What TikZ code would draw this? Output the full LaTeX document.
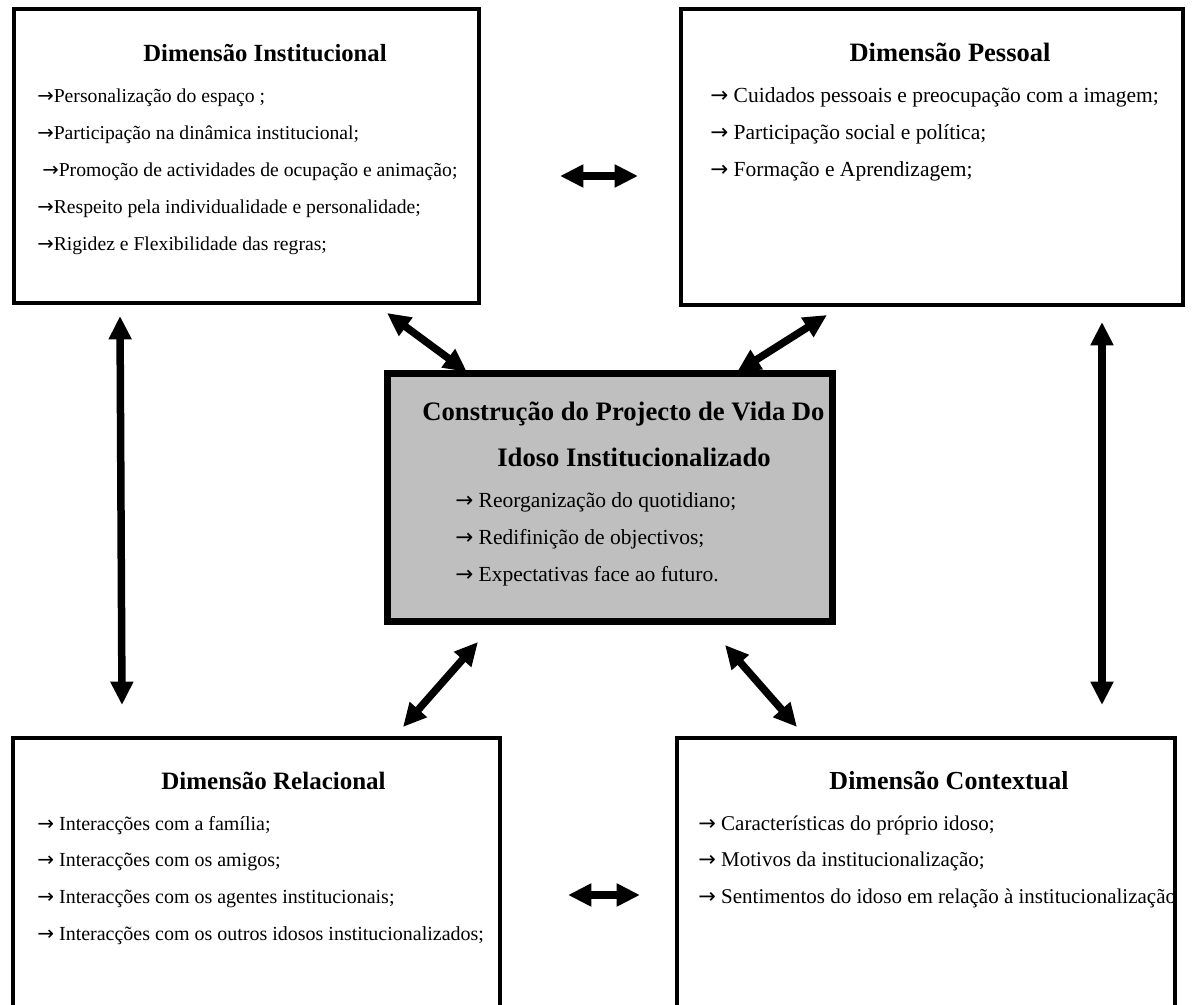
\documentclass[tikz,border=0pt]{standalone}
\usepackage{fontspec}
\setmainfont{Liberation Serif}
\newfontfamily\setafont{DejaVu Sans}
\usetikzlibrary{arrows.meta}
\newcommand{\seta}{{\setafont →}}

\begin{document}
\begin{tikzpicture}[x=0.6pt, y=-0.6pt,
    caixa/.style={draw, line width=2.4pt, fill=white, inner sep=0pt},
    centro/.style={draw, line width=4.2pt, fill=black!25, inner sep=0pt},
    titulo/.style={anchor=base, inner sep=0pt, font=\fontsize{14.8}{17}\selectfont\bfseries},
    titulog/.style={anchor=base, inner sep=0pt, font=\fontsize{16}{19}\selectfont\bfseries},
    item/.style={anchor=base west, inner sep=0pt, font=\fontsize{11.8}{14}\selectfont},
    itemg/.style={item, font=\fontsize{12.9}{15}\selectfont},
    liga/.style={line width=4.5pt, {Triangle[length=14pt,width=13pt]}-{Triangle[length=14pt,width=13pt]}}]
    \useasboundingbox (0,0) rectangle (1192,1005);
    \clip (0,0) rectangle (1192,1005);
    \fill[white] (0,0) rectangle (1192,1005);

    % caixas
    \node[caixa, minimum width=279pt, minimum height=176.4pt] (inst) at (246.5,156) {};
    \node[caixa, minimum width=301.2pt, minimum height=177.6pt] (pess) at (931.5,157.5) {};
    \node[centro, minimum width=267pt, minimum height=148.5pt] (cent) at (610,497.75) {};
    \node[caixa, minimum width=292.2pt, minimum height=181.2pt] (rel) at (256,889) {};
    \node[caixa, minimum width=298.8pt, minimum height=181.2pt] (cont) at (925.5,889) {};

    % Dimensao Institucional
    \node[titulo] (inst0) at (265,62) {Dimensão Institucional};
    \node[item] (inst1) at (37,103) {\seta Personalização do espaço ;};
    \node[item] (inst2) at (37,140) {\seta Participação na dinâmica institucional;};
    \node[item] (inst3) at (42,177) {\seta Promoção de actividades de ocupação e animação;};
    \node[item] (inst4) at (37,214) {\seta Respeito pela individualidade e personalidade;};
    \node[item] (inst5) at (37,251) {\seta Rigidez e Flexibilidade das regras;};

    % Dimensao Pessoal
    \node[titulo, font=\fontsize{15.9}{18}\selectfont\bfseries] (pess0) at (950,62) {Dimensão Pessoal};
    \node[itemg] (pess1) at (710,103) {\seta\ Cuidados pessoais e preocupação com a imagem;};
    \node[itemg] (pess2) at (710,140) {\seta\ Participação social e política;};
    \node[itemg] (pess3) at (710,177) {\seta\ Formação e Aprendizagem;};

    % Projecto de Vida
    \node[titulog] (cent0) at (623.5,421) {Construção do Projecto de Vida Do};
    \node[titulog] (cent1) at (634,467) {Idoso Institucionalizado};
    \node[itemg] (cent2) at (455,508) {\seta\ Reorganização do quotidiano;};
    \node[itemg] (cent3) at (455,545) {\seta\ Redifinição de objectivos;};
    \node[itemg] (cent4) at (455,582) {\seta\ Expectativas face ao futuro.};

    % Dimensao Relacional
    \node[titulo, font=\fontsize{15}{18}\selectfont\bfseries] (rel0) at (273.5,790) {Dimensão Relacional};
    \node[item, font=\fontsize{12}{14}\selectfont] (rel1) at (37,830) {\seta\ Interacções com a família;};
    \node[item, font=\fontsize{12}{14}\selectfont] (rel2) at (37,867) {\seta\ Interacções com os amigos;};
    \node[item, font=\fontsize{12}{14}\selectfont] (rel3) at (37,903) {\seta\ Interacções com os agentes institucionais;};
    \node[item, font=\fontsize{12}{14}\selectfont] (rel4) at (37,940) {\seta\ Interacções com os outros idosos institucionalizados;};

    % Dimensao Contextual
    \node[titulo, font=\fontsize{15.6}{18}\selectfont\bfseries] (cont0) at (949,790) {Dimensão Contextual};
    \node[item, font=\fontsize{12.6}{15}\selectfont] (cont1) at (698,830) {\seta\ Características do próprio idoso;};
    \node[item, font=\fontsize{12.6}{15}\selectfont] (cont2) at (698,867) {\seta\ Motivos da institucionalização;};
    \begin{scope}
        \clip (680,880) rectangle (1172,920);
        \node[item, font=\fontsize{12.6}{15}\selectfont] (cont3) at (698,903) {\seta\ Sentimentos do idoso em relação à institucionalização;};
    \end{scope}

    % setas
    \coordinate (h1a) at (560,176);  \coordinate (h1b) at (638,176);
    \coordinate (h2a) at (568,895);  \coordinate (h2b) at (640,895);
    \coordinate (v1a) at (120,316);  \coordinate (v1b) at (122,705);
    \coordinate (v2a) at (1102,322); \coordinate (v2b) at (1102,705);
    \coordinate (d1a) at (387,313);  \coordinate (d1b) at (467,372);
    \coordinate (d2a) at (827,315);  \coordinate (d2b) at (737,372);
    \coordinate (d3a) at (478,642);  \coordinate (d3b) at (403,727);
    \coordinate (d4a) at (725,645);  \coordinate (d4b) at (797,727);
    \draw[liga] (h1a) -- (h1b);
    \draw[liga] (h2a) -- (h2b);
    \draw[liga] (v1a) -- (v1b);
    \draw[liga] (v2a) -- (v2b);
    \draw[liga] (d1a) -- (d1b);
    \draw[liga] (d2a) -- (d2b);
    \draw[liga] (d3a) -- (d3b);
    \draw[liga] (d4a) -- (d4b);
\end{tikzpicture}
\end{document}
